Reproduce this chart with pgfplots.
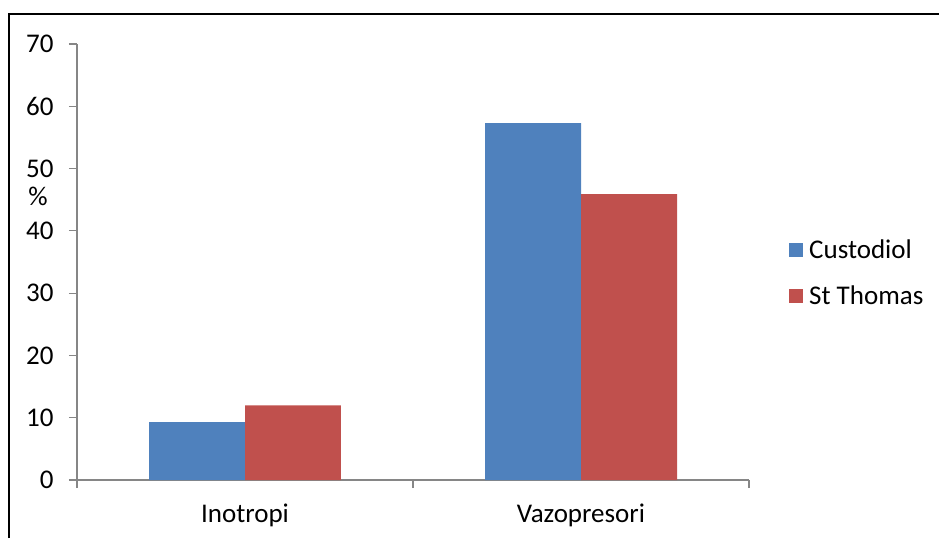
\documentclass[border=0pt]{standalone}
\usepackage{fontspec}
\setmainfont{Carlito}
\usepackage{pgfplots}
\pgfplotsset{compat=1.18}
\definecolor{cblue}{HTML}{4F81BD}
\definecolor{cred}{HTML}{C0504D}
\definecolor{axgray}{HTML}{868686}
\newcommand{\bigf}{\fontsize{27}{32}\selectfont}
\begin{document}
\begin{tikzpicture}[x=1pt,y=1pt]
\useasboundingbox (0,0) rectangle (939,538);
\draw[line width=2pt,black] (9,0) -- (9,524) -- (939,524);
\begin{axis}[
  at={(77pt,58pt)}, anchor=south west,
  scale only axis, width=672pt, height=436pt,
  xmin=0.5, xmax=2.5, ymin=0, ymax=70,
  axis x line=bottom, axis y line=left,
  axis line style={axgray, line width=1.2pt, -},
  every tick/.style={axgray, line width=1.2pt},
  tick align=outside, major tick length=8pt,
  xtick={0.5,1.5,2.5}, xticklabels={},
  extra x ticks={1,2}, extra x tick labels={Inotropi,Vazopresori},
  extra x tick style={major tick length=0pt, tick label style={yshift=-20pt}},
  ytick={0,10,...,70},
  /pgf/number format/assume math mode=true,
  tick label style={font=\bigf, black},
  yticklabel style={xshift=-12pt},
  ybar=0pt, bar width=0.2857,
  legend style={at={(1,0.475)}, anchor=west, xshift=40pt, draw=none, fill=none,
    font=\bigf, row sep=25pt, inner sep=0pt,
    nodes={inner sep=0pt, xshift=0pt}},
  legend cell align=left,
  legend image code/.code={\fill[#1] (0pt,-7pt) rectangle (14pt,7pt);},
  clip=false,
]
\addplot[fill=cblue, draw=none] coordinates {(1,9.3) (2,57.3)};
\addplot[fill=cred, draw=none] coordinates {(1,12.0) (2,45.9)};
\legend{\hspace{6pt}Custodiol,\hspace{6pt}St Thomas}
\node[font=\bigf, anchor=center] at ([xshift=-39pt]axis cs:0.5,45.5) {\%};
\end{axis}
\end{tikzpicture}
\end{document}
